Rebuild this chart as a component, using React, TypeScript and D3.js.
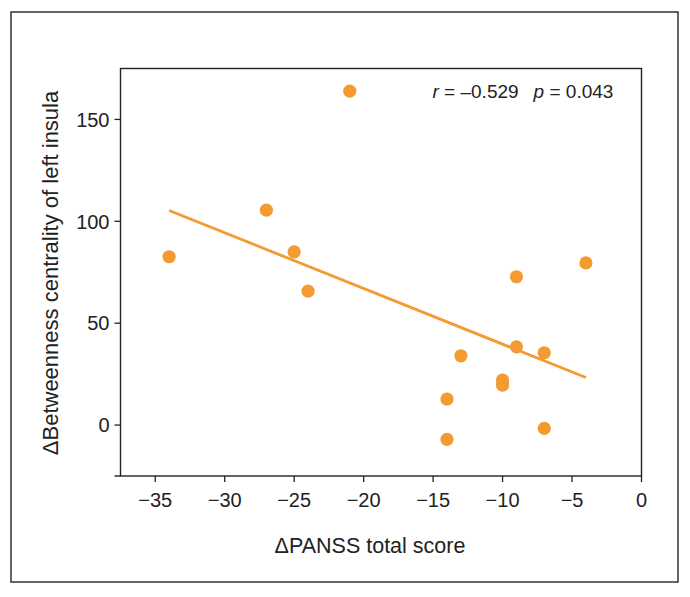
import React from "react";
import * as d3 from "d3";

const panssChange: number[] = [-34, -27, -25, -24, -21, -14, -14, -13, -10, -10, -9, -9, -7, -7, -4];
const betweennessChange: number[] = [82.6, 105.5, 85, 65.7, 163.9, 12.8, -7, 34, 22.1, 19.6, 72.8, 38.4, 35.5, -1.6, 79.6];
const xTicks: number[] = [-35, -30, -25, -20, -15, -10, -5, 0];
const yTicks: number[] = [0, 50, 100, 150];
const xTitle = "ΔPANSS total score";
const yTitle = "ΔBetweenness centrality of left insula";
const rText = "–0.529";
const pText = "0.043";

const W = 690;
const H = 597;
const FONT = "'Liberation Sans', Arial, Helvetica, sans-serif";
const ORANGE = "#F39A30";
const AXIS = "#222";

const fmt = (v: number) => (v < 0 ? "−" + Math.abs(v) : String(v));

export default function App() {
  const left = 120.5, right = 641.5, top = 68.5, bottom = 476;
  const x = d3.scaleLinear().domain([-37.5, 0]).range([left, right]);
  const y = d3.scaleLinear().domain([-25, 175]).range([bottom, top]);

  const pts = panssChange.map((v, i) => ({ x: v, y: betweennessChange[i] }));
  const mx = d3.mean(pts, (d) => d.x) as number;
  const my = d3.mean(pts, (d) => d.y) as number;
  const sxy = d3.sum(pts, (d) => (d.x - mx) * (d.y - my));
  const sxx = d3.sum(pts, (d) => (d.x - mx) * (d.x - mx));
  const slope = sxy / sxx;
  const icpt = my - slope * mx;
  const [x0, x1] = d3.extent(panssChange) as [number, number];
  const fitLine = d3.line<number>().x((v) => x(v)).y((v) => y(icpt + slope * v));

  return (
    <svg
      width={W}
      height={H}
      style={{ position: "absolute", left: 0, top: 0, background: "#fff" }}
      fontFamily={FONT}
    >
      <rect x={11} y={12} width={667} height={570} fill="none" stroke="#333" strokeWidth={1.5} />
      {/* plot box */}
      <rect x={left} y={top} width={right - left} height={bottom - top} fill="none" stroke={AXIS} strokeWidth={1.4} />
      <line x1={left - 6} x2={left} y1={bottom} y2={bottom} stroke={AXIS} strokeWidth={1.4} />
      {/* y ticks */}
      {yTicks.map((t) => (
        <g key={"y" + t}>
          <line x1={left - 6} x2={left} y1={y(t)} y2={y(t)} stroke={AXIS} strokeWidth={1.3} />
          <text x={left - 11} y={y(t)} dy="0.36em" textAnchor="end" fontSize={20} fill="#222">
            {fmt(t)}
          </text>
        </g>
      ))}
      {/* x ticks */}
      {xTicks.map((t) => (
        <g key={"x" + t}>
          <line x1={x(t)} x2={x(t)} y1={bottom} y2={bottom + 6} stroke={AXIS} strokeWidth={1.3} />
          <text x={x(t)} y={507} textAnchor="middle" fontSize={20} fill="#222">
            {fmt(t)}
          </text>
        </g>
      ))}
      {/* titles */}
      <text x={370} y={553} textAnchor="middle" fontSize={21.5} fill="#222">
        {xTitle}
      </text>
      <text
        transform={`translate(58,273) rotate(-90)`}
        textAnchor="middle"
        fontSize={22}
        fill="#222"
      >
        {yTitle}
      </text>
      {/* regression line */}
      <path d={fitLine([x0, x1]) as string} fill="none" stroke={ORANGE} strokeWidth={2.8} />
      {/* points */}
      {pts.map((d, i) => (
        <circle key={i} cx={x(d.x)} cy={y(d.y)} r={6.6} fill={ORANGE} />
      ))}
      {/* annotation */}
      <text x={432.5} y={97.5} fontSize={19} fill="#222">
        <tspan fontStyle="italic">r</tspan>
        <tspan>{" = " + rText}</tspan>
        <tspan dx={15}>
          <tspan fontStyle="italic">p</tspan>
          <tspan>{" = " + pText}</tspan>
        </tspan>
      </text>
    </svg>
  );
}
